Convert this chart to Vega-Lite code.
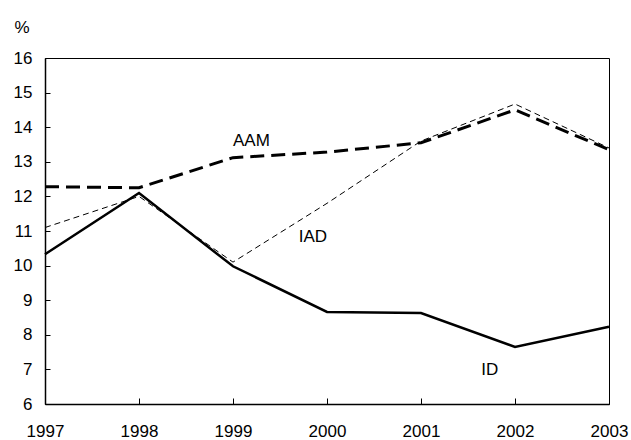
{
  "$schema": "https://vega.github.io/schema/vega-lite/v6.json",
  "width": 564,
  "height": 346,
  "autosize": {"type": "none"},
  "padding": {"left": 45, "top": 58, "right": 22, "bottom": 36},
  "config": {
    "font": "Liberation Sans",
    "view": {"stroke": "#000000", "strokeWidth": 1},
    "axis": {"grid": false, "domainColor": "#000000", "domainWidth": 1.5, "tickColor": "#000000", "tickWidth": 1, "labelColor": "#000000", "labelFontSize": 17, "labelFont": "Liberation Sans", "titleFont": "Liberation Sans"}
  },
  "datasets": {
    "series": [
      {"year": 1997, "series": "AAM", "value": 12.28},
      {"year": 1998, "series": "AAM", "value": 12.25},
      {"year": 1999, "series": "AAM", "value": 13.12},
      {"year": 2000, "series": "AAM", "value": 13.28},
      {"year": 2001, "series": "AAM", "value": 13.55},
      {"year": 2002, "series": "AAM", "value": 14.5},
      {"year": 2003, "series": "AAM", "value": 13.35},
      {"year": 1997, "series": "IAD", "value": 11.1},
      {"year": 1998, "series": "IAD", "value": 12.0},
      {"year": 1999, "series": "IAD", "value": 10.1},
      {"year": 2000, "series": "IAD", "value": 11.8},
      {"year": 2001, "series": "IAD", "value": 13.6},
      {"year": 2002, "series": "IAD", "value": 14.67},
      {"year": 2003, "series": "IAD", "value": 13.4},
      {"year": 1997, "series": "ID", "value": 10.33},
      {"year": 1998, "series": "ID", "value": 12.1},
      {"year": 1999, "series": "ID", "value": 9.98},
      {"year": 2000, "series": "ID", "value": 8.66},
      {"year": 2001, "series": "ID", "value": 8.63},
      {"year": 2002, "series": "ID", "value": 7.65},
      {"year": 2003, "series": "ID", "value": 8.23}
    ],
    "labels": [
      {"year": 1999.0, "value": 13.6, "text": "AAM"},
      {"year": 1999.7, "value": 10.83, "text": "IAD"},
      {"year": 2001.64, "value": 6.98, "text": "ID"}
    ]
  },
  "encoding": {
    "x": {"field": "year", "type": "quantitative", "scale": {"domain": [1997, 2003], "nice": false, "zero": false},
          "axis": {"title": null, "values": [1997, 1998, 1999, 2000, 2001, 2002, 2003], "format": "d", "tickSize": -6, "labelBaseline": "alphabetic", "labelPadding": 38, "labelFlush": false, "labelOverlap": false, "labelBound": false}},
    "y": {"field": "value", "type": "quantitative", "scale": {"domain": [6, 16], "nice": false, "zero": false},
          "axis": {"title": "%", "titleAngle": 0, "titleFontSize": 17, "titleFontWeight": "normal", "titleColor": "#000000", "titleAnchor": "end", "titleAlign": "left", "titleBaseline": "alphabetic", "titleX": -31, "titleY": -26,
                   "values": [6, 7, 8, 9, 10, 11, 12, 13, 14, 15, 16], "tickSize": -5, "labelPadding": 18, "labelFlush": false, "labelOverlap": false}}
  },
  "layer": [
    {
      "data": {"name": "series"},
      "transform": [{"filter": "datum.series === 'IAD'"}],
      "mark": {"type": "line", "color": "#000000", "strokeWidth": 1, "strokeDash": [6, 4], "strokeCap": "butt"}
    },
    {
      "data": {"name": "series"},
      "transform": [{"filter": "datum.series === 'AAM'"}],
      "mark": {"type": "line", "color": "#000000", "strokeWidth": 3, "strokeDash": [14, 7], "strokeCap": "butt"}
    },
    {
      "data": {"name": "series"},
      "transform": [{"filter": "datum.series === 'ID'"}],
      "mark": {"type": "line", "color": "#000000", "strokeWidth": 2.5, "strokeCap": "butt"}
    },
    {
      "data": {"name": "labels"},
      "mark": {"type": "text", "fontSize": 17, "color": "#000000", "align": "left", "baseline": "middle", "font": "Liberation Sans"},
      "encoding": {
        "text": {"field": "text"}
      }
    }
  ]
}
